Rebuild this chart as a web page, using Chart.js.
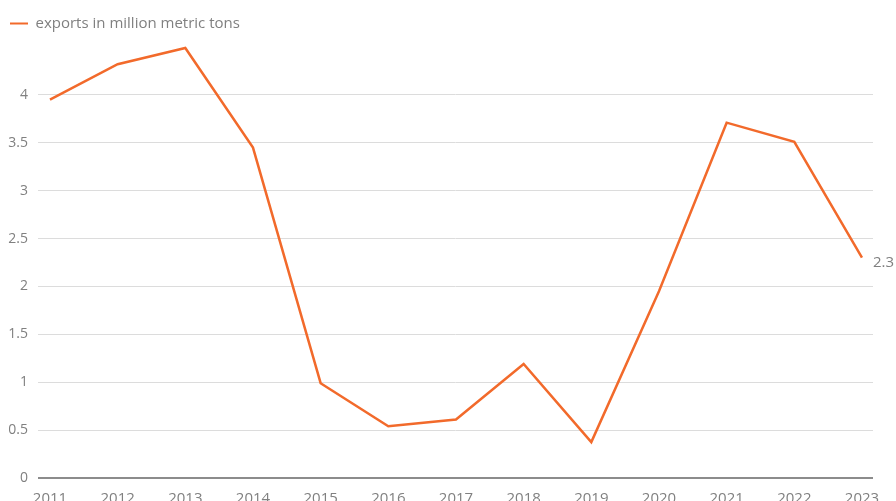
<!DOCTYPE html>
<html>
<head>
<meta charset="utf-8">
<script src="https://cdn.jsdelivr.net/npm/chart.js@4/dist/chart.umd.min.js"></script>
<style>
  html, body { margin: 0; padding: 0; overflow: hidden; background: #fff; }
  #wrap { width: 896px; height: 512px; position: relative; }
</style>
</head>
<body>
<div id="wrap"><canvas id="chart"></canvas></div>
<script>
const years = [2011, 2012, 2013, 2014, 2015, 2016, 2017, 2018, 2019, 2020, 2021, 2022, 2023];
const exportsMt = [3.95, 4.32, 4.49, 3.45, 0.99, 0.54, 0.61, 1.19, 0.375, 1.95, 3.71, 3.51, 2.3];
const yTicks = [0, 0.5, 1, 1.5, 2, 2.5, 3, 3.5, 4];
const seriesLabel = 'exports in million metric tons';
const lastLabel = '2.3';

const orange = '#f26a2b';
const textGray = '#808080';
const fontFamily = '"Open Sans", sans-serif';

// label next to the last point
const endLabel = {
    id: 'endLabel',
    afterDatasetsDraw(chart) {
        const meta = chart.getDatasetMeta(0);
        const pt = meta.data[meta.data.length - 1];
        const ctx = chart.ctx;
        ctx.save();
        ctx.font = '15px ' + fontFamily;
        ctx.fillStyle = textGray;
        ctx.textAlign = 'left';
        ctx.textBaseline = 'middle';
        ctx.fillText(lastLabel, pt.x + 11, pt.y + 5);
        ctx.restore();
    }
};

// a bit more room under the legend
const legendGap = {
    id: 'legendGap',
    beforeInit(chart) {
        const origFit = chart.legend.fit;
        chart.legend.fit = function () {
            origFit.bind(chart.legend)();
            this.height += 6;
        };
    }
};

new Chart(document.getElementById('chart').getContext('2d'), {
    type: 'line',
    data: {
        datasets: [{
            label: seriesLabel,
            data: years.map((yr, i) => ({ x: yr, y: exportsMt[i] })),
            borderColor: orange,
            backgroundColor: orange,
            borderWidth: 2.5,
            pointRadius: 0,
            tension: 0,
            clip: false,
        }]
    },
    options: {
        responsive: true,
        maintainAspectRatio: false,
        animation: false,
        layout: {
            padding: { left: 0, right: 23, top: 6, bottom: 0 },
        },
        plugins: {
            legend: {
                display: true,
                position: 'top',
                align: 'start',
                labels: {
                    boxWidth: 18,
                    boxHeight: 2,
                    color: textGray,
                    font: { family: fontFamily, size: 15 },
                    padding: 10,
                    generateLabels: (chart) => Chart.defaults.plugins.legend.labels.generateLabels(chart)
                        .map(l => ({ ...l, lineWidth: 0 })),
                },
            },
            tooltip: { enabled: false },
        },
        scales: {
            x: {
                type: 'linear',
                min: 2010.823,
                max: 2023.163,
                afterBuildTicks: (scale) => { scale.ticks = years.map(v => ({ value: v })); },
                ticks: {
                    color: textGray,
                    font: { family: fontFamily, size: 15 },
                    padding: 4,
                    maxRotation: 0,
                    autoSkip: false,
                    callback: (v) => String(v),
                },
                grid: { display: false },
                border: { display: false },
            },
            y: {
                min: 0,
                max: 4.5,
                afterBuildTicks: (scale) => { scale.ticks = yTicks.map(v => ({ value: v })); },
                afterFit: (scale) => { scale.width = 38; },
                ticks: {
                    color: textGray,
                    font: { family: fontFamily, size: 14 },
                    padding: 10,
                    callback: (v) => String(v),
                },
                grid: {
                    drawTicks: false,
                    color: (c) => c.tick && c.tick.value === 0 ? '#8c8c8c' : '#dcdcdc',
                    lineWidth: (c) => c.tick && c.tick.value === 0 ? 2 : 1,
                },
                border: { display: false },
            },
        },
    },
    plugins: [endLabel, legendGap],
});
</script>
</body>
</html>
